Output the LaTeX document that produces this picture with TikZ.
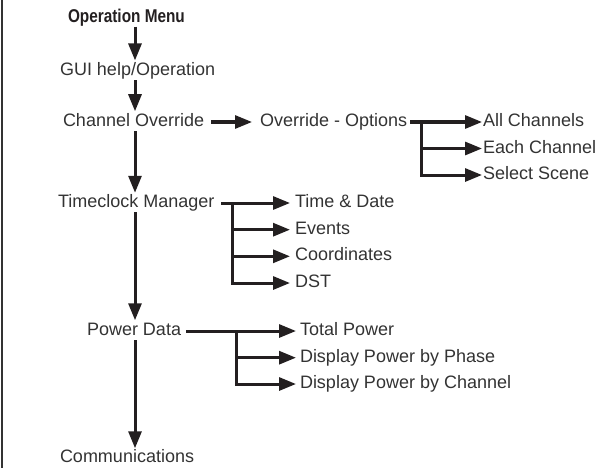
\documentclass[tikz,border=0pt]{standalone}
\usepackage{fontspec}
\setmainfont{Liberation Sans}
\usetikzlibrary{arrows.meta}
\definecolor{txtgray}{HTML}{333333}
\definecolor{linec}{HTML}{231F20}
\begin{document}
\begin{tikzpicture}[x=1pt,y=-1pt,
  lbl/.style={anchor=west,inner sep=0pt,outer sep=0pt,text height=12.9pt,text depth=3.6pt,font=\fontsize{18}{21}\selectfont,text=txtgray},
  ttl/.style={lbl,font=\bfseries\fontsize{18.5}{21}\selectfont,text=linec},
  arr/.style={line width=3pt,draw=linec,-{Triangle[length=17pt,width=13pt]}},
  border/.style={line width=1.5pt,draw=txtgray}]
\useasboundingbox (0,0) rectangle (599,468);
\draw[border] (2.2,0) -- (2.2,468);
\coordinate (sp) at (135,0);
% nodes
\node[ttl] (om) at (68,17.5) {\scalebox{0.83}[1]{Operation Menu}};
\node[lbl] (gui) at (60,71.2) {GUI help/Operation};
\node[lbl] (co) at (63,122) {Channel Override};
\node[lbl] (oo) at (260,122) {Override - Options};
\node[lbl] (ac) at (483,122) {All Channels};
\node[lbl] (ec) at (483,148.5) {Each Channel};
\node[lbl] (ss) at (483,175) {Select Scene};
\node[lbl] (tm) at (58,203) {Timeclock Manager};
\node[lbl] (td) at (295,203) {Time \& Date};
\node[lbl] (ev) at (295,229.7) {Events};
\node[lbl] (cd) at (295,256.3) {Coordinates};
\node[lbl] (dst) at (295,283) {DST};
\node[lbl] (pd) at (87,331) {Power Data};
\node[lbl] (tp) at (300,331) {Total Power};
\node[lbl] (pp) at (300,357.7) {Display Power by Phase};
\node[lbl] (pc) at (300,384) {Display Power by Channel};
\node[lbl] (cm) at (60,458) {Communications};
% main spine
\draw[arr,shorten <=1pt,shorten >=2.5pt] (om.south -| sp) -- (gui.north -| sp);
\draw[arr,shorten <=1pt,shorten >=2.5pt] (gui.south -| sp) -- (co.north -| sp);
\draw[arr,shorten <=1pt,shorten >=2pt] (co.south -| sp) -- (tm.north -| sp);
\draw[arr,shorten <=1pt,shorten >=2.5pt] (tm.south -| sp) -- (pd.north -| sp);
\draw[arr,shorten <=1pt,shorten >=1.5pt] (pd.south -| sp) -- (cm.north -| sp);
% channel override
\draw[arr,shorten <=7pt,shorten >=8pt] (co.east) -- (oo.west);
\coordinate (ob) at (421,122);
\draw[arr,shorten <=3pt,shorten >=1pt] (oo.east) -- (ac.west);
\draw[arr,shorten >=1pt] (ob) |- (ec.west);
\draw[arr,shorten >=1pt] (ob) |- (ss.west);
% timeclock
\coordinate (tb) at (232,203);
\draw[arr,shorten <=7pt,shorten >=5pt] (tm.east) -- (td.west);
\draw[arr,shorten >=5pt] (tb) |- (ev.west);
\draw[arr,shorten >=5pt] (tb) |- (cd.west);
\draw[arr,shorten >=5pt] (tb) |- (dst.west);
% power data
\coordinate (pb) at (236,331);
\draw[arr,shorten <=5pt,shorten >=4pt] (pd.east) -- (tp.west);
\draw[arr,shorten >=4pt] (pb) |- (pp.west);
\draw[arr,shorten >=4pt] (pb) |- (pc.west);
\end{tikzpicture}
\end{document}
